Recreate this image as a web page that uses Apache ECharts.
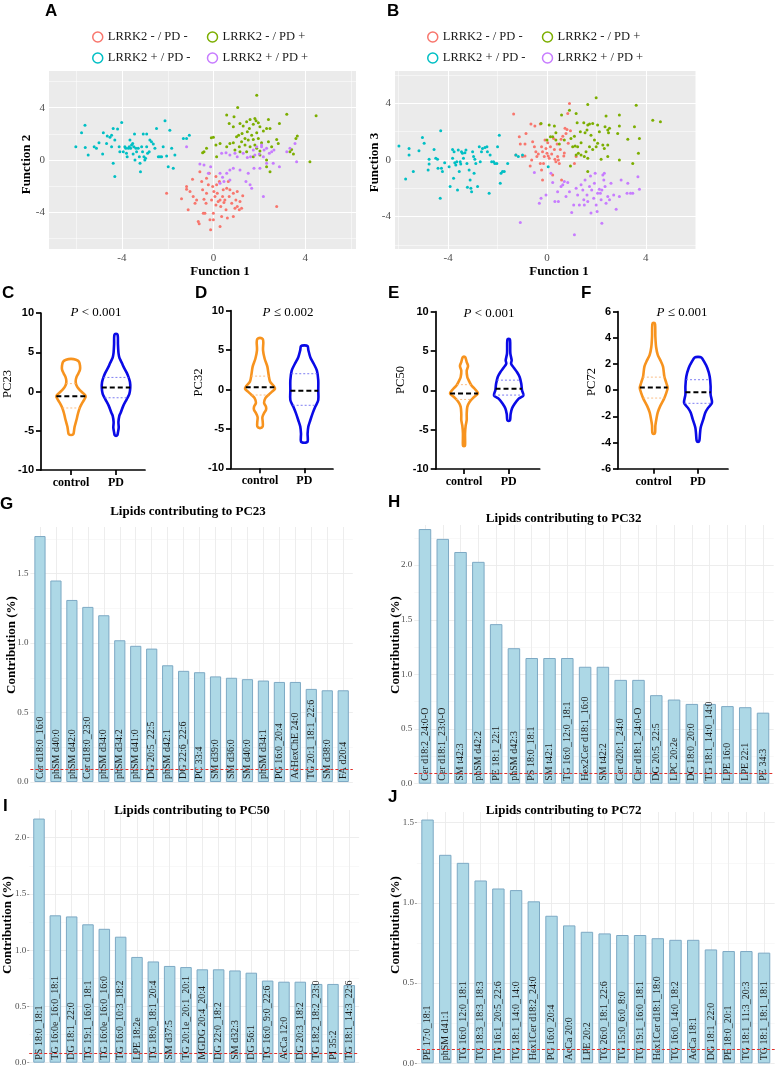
<!DOCTYPE html>
<html><head><meta charset="utf-8">
<script src="https://cdn.jsdelivr.net/npm/echarts@6/dist/echarts.min.js"></script>
<style>html,body{margin:0;padding:0;background:#fff}#c{width:777px;height:1070px}</style>
</head><body><div id="c"></div>
<script>
// ================= DATA =================
const groupNames = ['LRRK2 - / PD -','LRRK2 - / PD +','LRRK2 + / PD -','LRRK2 + / PD +'];
const scatterMajorTicks = [-4,0,4];
const scatterMinorTicks = [-6,-2,2,6];

// Panel A : Function 1 vs Function 2
const A_lrrkNeg_pdNeg = [[-2.05,-2.54],[-1.40,-2.97],[-1.18,-2.03],[-1.18,-2.23],[-1.11,-3.81],[-0.92,-1.47],[-0.89,-2.79],[-0.81,-3.30],[-0.67,-4.70],[-0.63,-4.87],[-0.60,-0.89],[-0.52,-1.65],[-0.48,-2.28],[-0.42,-2.99],[-0.38,-4.06],[-0.33,-3.30],[-0.31,-2.54],[-0.23,-1.90],[-0.19,-1.02],[-0.16,-4.57],[-0.13,-5.33],[-0.09,-3.05],[-0.01,-4.06],[0.01,-2.41],[0.06,-2.79],[0.10,-3.43],[0.13,-1.90],[0.16,-2.54],[0.20,-3.17],[0.25,-1.65],[0.28,-3.05],[0.31,-3.55],[0.35,-4.31],[0.39,-2.79],[0.42,-2.28],[0.45,-3.25],[0.49,-3.05],[0.54,-3.81],[0.57,-2.16],[0.60,-4.44],[0.64,-1.65],[0.68,-2.79],[0.71,-2.28],[0.79,-3.30],[0.86,-2.54],[0.93,-3.68],[0.97,-3.05],[1.03,-3.55],[1.12,-3.81],[1.15,-3.17],[1.22,-3.68],[1.03,-2.41],[0.86,-4.31],[0.28,-5.08],[-0.01,-4.57],[-0.45,-4.06],[-0.74,-3.05],[-1.03,-2.41],[2.75,-3.55],[1.27,-2.74],[-0.31,-1.40],[0.10,-1.27],[-0.04,-2.03]];
const A_lrrkNeg_pdPos = [[1.88,4.95],[1.05,4.01],[0.57,3.43],[0.89,3.30],[3.19,3.50],[4.47,3.38],[1.59,3.10],[1.80,3.17],[1.85,3.00],[1.44,2.92],[1.15,2.79],[0.68,2.79],[0.86,2.54],[1.29,2.59],[1.73,2.74],[1.95,2.84],[2.39,3.10],[2.46,2.41],[2.87,2.79],[2.31,2.41],[2.02,2.54],[1.56,2.41],[1.24,2.03],[1.47,2.16],[1.09,1.90],[1.00,1.78],[1.66,1.90],[1.88,2.08],[2.17,2.21],[1.37,1.65],[1.51,1.52],[1.73,1.57],[1.95,1.65],[1.22,1.40],[0.86,1.32],[0.71,1.27],[0.28,1.27],[0.10,1.14],[0.57,1.02],[1.12,1.02],[1.37,1.14],[1.59,1.02],[1.80,1.14],[2.09,1.32],[2.39,1.40],[2.53,1.02],[2.82,1.27],[2.75,1.57],[3.65,1.83],[3.59,1.65],[3.40,0.81],[3.33,0.63],[3.48,0.46],[4.20,-0.13],[-0.01,1.73],[-0.10,1.70],[-0.31,0.89],[-0.48,0.56],[-0.42,0.63],[0.13,0.25],[0.93,0.76],[1.15,0.63],[1.44,0.63],[1.73,0.25],[2.02,0.38],[2.31,0.00],[2.46,-0.89],[2.31,-0.51],[2.02,0.69],[1.88,0.89]];
const A_lrrkPos_pdNeg = [[-6.01,1.02],[-5.76,2.08],[-5.61,2.66],[-5.60,0.96],[-5.47,0.38],[-5.21,1.02],[-5.11,0.89],[-5.00,1.32],[-4.81,2.08],[-4.84,0.46],[-4.67,1.27],[-4.64,1.83],[-4.52,1.73],[-4.45,1.90],[-4.45,1.02],[-4.38,2.41],[-4.31,1.52],[-4.38,-0.25],[-4.31,-1.27],[-4.19,2.36],[-4.12,1.02],[-4.09,0.63],[-4.01,2.87],[-3.94,0.63],[-3.87,1.02],[-3.83,0.89],[-3.80,0.51],[-3.77,0.25],[-3.72,0.89],[-3.68,1.02],[-3.65,1.52],[-3.62,0.89],[-3.58,1.14],[-3.53,1.27],[-3.51,0.46],[-3.48,1.02],[-3.45,1.98],[-3.43,0.00],[-3.39,0.89],[-3.36,0.63],[-3.29,0.89],[-3.24,0.25],[-3.21,-0.25],[-3.19,-0.89],[-3.14,1.02],[-3.10,0.63],[-3.07,1.98],[-3.04,0.25],[-3.00,0.00],[-2.97,0.13],[-2.92,1.98],[-2.92,1.02],[-2.88,0.51],[-2.81,0.63],[-2.78,1.52],[-2.71,1.40],[-2.63,1.22],[-2.56,0.89],[-2.49,2.41],[-2.41,0.25],[-2.34,0.25],[-2.27,0.25],[-2.20,1.02],[-2.12,2.99],[-2.05,0.30],[-1.98,-0.51],[-1.91,2.28],[-1.83,0.89],[-1.76,-0.63],[-1.69,0.38],[-1.32,1.65],[-1.18,1.65],[-1.06,1.90]];
const A_lrrkPos_pdPos = [[-1.18,1.02],[-0.60,-0.30],[-0.42,-0.38],[-0.23,-1.02],[-0.13,-0.51],[0.28,-1.02],[0.39,-1.32],[0.57,-1.02],[0.71,-0.76],[0.86,-0.63],[0.28,-1.78],[0.45,-1.65],[0.71,-1.52],[0.35,0.51],[0.54,0.56],[0.71,0.38],[0.93,0.51],[1.03,0.25],[1.29,0.51],[1.47,0.20],[1.61,0.25],[1.73,0.76],[1.80,0.38],[1.99,0.46],[2.09,1.02],[2.20,0.76],[2.31,0.89],[2.43,0.51],[2.53,0.63],[2.63,0.76],[2.09,1.14],[1.88,1.02],[2.17,0.25],[2.31,-0.25],[2.60,-0.25],[2.87,-0.51],[2.02,-0.63],[1.76,-0.63],[1.41,-1.65],[1.59,-1.90],[1.66,-2.16],[2.17,-2.79],[3.19,0.63],[3.33,0.89],[3.55,1.27],[3.62,-0.13],[1.51,-1.02],[1.15,-0.76]];

// Panel B : Function 1 vs Function 3
const B_lrrkNeg_pdNeg = [[-1.35,3.25],[-1.12,1.65],[-1.08,1.13],[-0.89,1.13],[-0.85,1.88],[-1.26,0.35],[-0.99,0.24],[-0.89,0.28],[-0.68,-0.42],[-0.62,0.00],[-0.58,1.29],[-0.51,0.94],[-0.49,2.40],[-0.45,0.59],[-0.41,0.24],[-0.35,0.42],[-0.27,2.54],[-0.22,0.94],[-0.18,0.59],[-0.22,-0.71],[-0.18,-1.41],[-0.14,-0.24],[-0.08,1.41],[-0.04,0.82],[0.00,0.47],[0.03,1.22],[0.05,0.28],[0.09,0.12],[0.14,0.94],[0.19,0.42],[0.23,-1.06],[0.27,1.53],[0.30,0.75],[0.32,0.05],[0.36,-0.12],[0.41,1.13],[0.43,0.24],[0.46,0.00],[0.50,-0.24],[0.54,0.75],[0.57,1.46],[0.59,-1.41],[0.64,1.69],[0.68,0.28],[0.73,2.24],[0.77,1.88],[0.81,2.16],[0.84,3.29],[0.86,1.18],[0.91,4.00],[0.95,2.07],[0.70,0.50],[1.11,-0.24],[1.18,0.24],[-0.65,2.54],[-0.27,-0.24],[-0.11,0.24]];
const B_lrrkNeg_pdPos = [[1.99,4.40],[1.65,3.93],[0.91,3.53],[0.59,3.18],[1.18,3.29],[2.39,3.11],[2.93,3.18],[3.61,3.88],[4.28,2.82],[4.59,2.71],[1.49,2.64],[1.65,2.47],[1.72,2.54],[1.85,2.59],[2.05,2.47],[2.35,2.35],[2.46,2.12],[2.53,2.24],[2.93,2.40],[3.54,2.35],[1.22,2.64],[1.35,2.00],[1.54,1.93],[1.62,2.12],[1.78,1.76],[1.92,1.41],[2.12,2.00],[2.49,1.93],[2.86,1.88],[3.27,1.46],[3.74,1.53],[0.30,2.40],[0.09,2.47],[-0.24,2.59],[0.36,1.93],[0.70,1.41],[0.97,1.53],[1.11,1.69],[1.04,0.94],[1.14,0.99],[1.24,0.94],[1.38,1.22],[1.58,0.59],[1.72,0.94],[1.85,0.75],[1.99,0.94],[2.05,1.18],[2.26,1.06],[2.46,1.06],[2.32,0.82],[1.18,0.35],[1.27,0.47],[1.38,0.35],[1.51,0.24],[1.65,0.12],[2.19,0.05],[2.46,0.24],[2.93,0.00],[3.47,-0.24],[3.70,0.47],[0.36,1.41],[0.50,1.13],[0.23,1.65],[1.65,-0.82],[0.95,-0.42],[0.00,1.41],[0.14,1.65]];
const B_lrrkPos_pdNeg = [[-5.99,0.99],[-5.58,0.82],[-5.58,0.35],[-5.72,-1.34],[-5.41,-0.82],[-5.18,0.66],[-5.04,1.60],[-4.97,1.18],[-4.77,0.05],[-4.77,-0.28],[-4.81,-0.71],[-4.57,0.75],[-4.50,0.12],[-4.43,0.05],[-4.41,-0.59],[-4.32,-2.71],[-4.30,2.07],[-4.27,-0.59],[-4.23,-0.82],[-4.14,-0.19],[-3.96,-0.47],[-3.92,-1.88],[-3.82,0.75],[-3.82,0.12],[-3.78,-1.29],[-3.76,0.59],[-3.73,-0.19],[-3.69,-0.35],[-3.65,-0.12],[-3.62,-2.12],[-3.59,0.71],[-3.55,-0.82],[-3.51,-0.12],[-3.49,-0.28],[-3.46,0.59],[-3.42,0.47],[-3.38,0.12],[-3.32,0.52],[-3.28,0.71],[-3.24,-0.24],[-3.22,-1.93],[-3.15,-0.71],[-3.11,-1.41],[-3.08,-2.00],[-3.05,-2.24],[-3.01,0.59],[-2.97,0.24],[-2.95,-0.94],[-2.92,0.05],[-2.88,-0.24],[-2.81,-1.88],[-2.74,0.94],[-2.70,-0.12],[-2.65,0.59],[-2.61,0.82],[-2.51,0.89],[-2.43,0.94],[-2.41,0.59],[-2.34,-2.35],[-2.30,0.35],[-2.24,-0.12],[-2.16,-0.12],[-2.11,-0.24],[-2.03,-0.24],[-2.00,0.94],[-1.93,1.76],[-1.89,-1.65],[-1.86,-0.94],[-1.80,-0.82],[-1.73,-0.82],[-1.59,-0.24],[-1.26,0.35],[-1.16,0.24],[-0.99,0.35],[0.05,-0.47]];
const B_lrrkPos_pdPos = [[-1.08,-4.42],[-0.51,-0.89],[-0.31,-3.06],[-0.24,-2.71],[-0.04,-2.47],[0.16,-0.94],[0.23,-1.60],[0.32,-2.94],[0.43,-2.24],[0.46,-2.94],[0.57,-1.88],[0.64,-1.76],[0.70,-1.53],[0.77,-2.59],[0.84,-1.60],[0.91,-2.24],[1.00,-3.72],[1.08,-3.18],[1.11,-5.29],[1.18,-2.00],[1.24,-2.47],[1.31,-3.18],[1.38,-1.76],[1.45,-2.12],[1.49,-2.82],[1.51,-3.18],[1.54,-1.41],[1.62,-2.47],[1.65,-2.94],[1.72,-1.88],[1.76,-1.13],[1.78,-3.76],[1.81,-2.12],[1.89,-2.71],[1.92,-1.65],[1.95,-0.94],[1.99,-3.18],[2.03,-3.65],[2.05,-2.35],[2.12,-2.07],[2.16,-2.35],[2.19,-2.82],[2.22,-2.12],[2.26,-1.06],[2.30,-1.41],[2.32,-0.94],[2.35,-1.88],[2.39,-3.06],[2.46,-2.59],[2.53,-2.82],[2.59,-1.65],[2.70,-2.47],[2.80,-3.48],[2.93,-2.59],[3.24,-2.35],[3.27,-1.65],[3.38,-2.35],[3.47,-2.35],[3.68,-1.18],[3.74,-2.07],[2.22,-4.47],[3.00,-1.41]];

// Violin panels: [value, relative density]
const violinGroups = ['control','PD'];
const pc23_control = [[4.15,0],[4.05,0.33],[3.8,0.53],[3.3,0.6],[2.8,0.6],[2.3,0.49],[1.8,0.36],[1.3,0.31],[0.8,0.36],[0.3,0.53],[-0.2,0.8],[-0.6,0.98],[-1.0,0.89],[-1.5,0.73],[-2.0,0.6],[-2.5,0.51],[-3.0,0.44],[-3.5,0.38],[-4.0,0.31],[-4.5,0.24],[-5.0,0.2],[-5.4,0.16],[-5.55,0]];
const pc23_PD = [[7.35,0],[7.2,0.11],[6.0,0.13],[5.0,0.16],[4.5,0.2],[4.1,0.27],[3.6,0.4],[3.2,0.49],[2.4,0.71],[1.8,0.84],[1.2,0.93],[0.5,0.95],[-0.3,0.89],[-1.0,0.71],[-1.8,0.49],[-2.7,0.31],[-3.1,0.22],[-3.9,0.16],[-4.6,0.18],[-5.2,0.13],[-5.55,0.09],[-5.65,0]];
const pc23_medians = [-0.6, 0.5];
const pc23_quartiles = [[1.0,-2.1],[1.8,-0.8]];

const pc32_control = [[6.55,0],[6.4,0.18],[6.0,0.22],[5.0,0.2],[3.9,0.31],[2.9,0.49],[1.8,0.58],[1.0,0.67],[0.4,0.93],[0.1,1.0],[-0.3,0.78],[-0.7,0.56],[-1.1,0.36],[-1.7,0.27],[-2.2,0.4],[-2.6,0.4],[-3.0,0.27],[-3.5,0.16],[-4.1,0.18],[-4.7,0.18],[-4.9,0]];
const pc32_PD = [[5.6,0],[5.5,0.22],[5.0,0.27],[4.1,0.4],[3.3,0.62],[2.4,0.84],[1.2,0.93],[-0.1,0.93],[-1.35,0.93],[-2.2,0.73],[-3.0,0.56],[-3.9,0.4],[-4.7,0.27],[-5.6,0.22],[-6.6,0.22],[-6.75,0]];
const pc32_medians = [0.3, -0.15];
const pc32_quartiles = [[1.7,-0.7],[2.0,-2.0]];

const pc50_control = [[4.3,0],[4.2,0.09],[3.6,0.18],[3.1,0.27],[2.5,0.18],[1.7,0.22],[1.3,0.31],[0.65,0.49],[0.2,0.71],[-0.4,0.93],[-0.85,0.67],[-1.5,0.36],[-2.1,0.22],[-3.0,0.18],[-3.8,0.18],[-4.5,0.11],[-5.5,0.07],[-7.0,0.07],[-7.1,0]];
const pc50_PD = [[6.55,0],[6.4,0.09],[4.7,0.11],[3.8,0.2],[3.4,0.16],[2.9,0.33],[2.3,0.56],[1.7,0.73],[0.85,0.84],[0,0.89],[-0.65,0.98],[-1.05,0.67],[-1.7,0.4],[-2.3,0.22],[-3.0,0.13],[-3.8,0.09],[-3.9,0]];
const pc50_medians = [-0.4, 0.2];
const pc50_quartiles = [[0.72,-1.15],[1.3,-0.6]];

const pc72_control = [[5.15,0],[5.05,0.09],[4.1,0.11],[3.3,0.16],[2.7,0.27],[2.3,0.44],[1.8,0.62],[1.05,0.71],[0.55,0.84],[0.18,0.93],[-0.2,0.84],[-0.7,0.67],[-1.2,0.44],[-1.7,0.27],[-2.2,0.18],[-2.7,0.11],[-3.25,0.09],[-3.35,0]];
const pc72_PD = [[2.55,0],[2.5,0.22],[2.2,0.4],[1.7,0.62],[1.05,0.78],[0.3,0.84],[-0.33,0.84],[-0.96,0.93],[-1.35,0.67],[-1.7,0.49],[-2.2,0.36],[-2.85,0.18],[-3.35,0.13],[-3.85,0.09],[-3.95,0]];
const pc72_medians = [0.2, -0.15];
const pc72_quartiles = [[1.0,-0.6],[0.8,-1.0]];

const pValueTexts = ['< 0.001','≤ 0.002','< 0.001','≤ 0.001'];

// Bar panels
const lipidsPC23 = ['Cer d18:0_16:0','phSM d40:0','phSM d42:0','Cer d18:0_23:0','phSM d34:0','phSM d34:2','phSM d41:0','DG 20:5_22:5','phSM d42:1','DG 22:6_22:6','PC 33:4','SM d39:0','SM d36:0','SM d40:0','phSM d34:1','PG 16:0_20:4','AcHexChE 24:0','TG 20:1_18:1_22:6','SM d38:0','FA d20:4'];
const contribPC23 = [1.77,1.45,1.31,1.26,1.20,1.02,0.98,0.96,0.84,0.80,0.79,0.76,0.75,0.74,0.73,0.72,0.72,0.67,0.66,0.66];
const lipidsPC32 = ['Cer d18:2_24:0-O','Cer d18:1_23:0-O','SM t42:3','phSM d42:2','PE 18:1_22:1','phSM d42:3','PS 18:0_18:1','SM t42:1','TG 16:0_12:0_18:1','Hex2Cer d18:1_16:0','SM t42:2','Cer d20:1_24:0','Cer d18:1_24:0-O','DG 20:5_22:5','LPC 20:2e','DG 18:0_20:0','TG 18:1_14:0_14:0','LPE 16:0','LPE 22:1','PE 34:3'];
const contribPC32 = [2.33,2.24,2.12,2.03,1.46,1.24,1.15,1.15,1.15,1.07,1.07,0.95,0.95,0.81,0.77,0.73,0.73,0.71,0.70,0.65];
const lipidsPC50 = ['PS 18:0_18:1','TG 16:0e_16:0_18:1','DG 18:1_22:0','TG 19:1_16:0_18:1','TG 16:0e_16:0_16:0','TG 16:0_10:3_18:2','LPE 18:2e','TG 18:0_18:1_20:4','SM d37:5','TG 20:1e_20:1_20:1','MGDG 20:4_20:4','DG 22:0_18:2','SM d32:3','DG 56:1','TG 16:0_9:0_22:6','AcCa 12:0','DG 20:3_18:2','TG 18:2_18:2_23:0','PI 35:2','TG 18:1_14:3_22:6'];
const contribPC50 = [2.17,1.31,1.30,1.23,1.19,1.12,0.94,0.90,0.86,0.85,0.83,0.83,0.82,0.80,0.73,0.72,0.72,0.70,0.70,0.69];
const lipidsPC72 = ['PE 17:0_18:1','phSM d41:1','TG 16:0_12:0_18:1','TG 18:3_18:3_18:3','TG 16:1_20:5_22:6','TG 18:1_14:0_14:0','Hex1Cer d18:2_24:0','PG 16:0_20:4','AcCa 20:0','LPE 20:2','TG 26:0_18:1_22:6','TG 15:0_6:0_8:0','TG 19:1_16:0_18:1','Hex1Cer d18:1_18:0','TG 16:0_14:0_18:2','AcCa 18:1','DG 18:1_22:0','PE 18:0_20:1','TG 18:1_11:3_20:3','TG 18:1_18:1_18:1'];
const contribPC72 = [1.52,1.30,1.25,1.14,1.09,1.08,1.01,0.92,0.86,0.82,0.81,0.80,0.80,0.78,0.77,0.77,0.71,0.70,0.70,0.69];
const thresholds = [0.09, 0.10, 0.083, 0.091];
const yTicksPC23 = [0,0.5,1.0,1.5], yMinorPC23 = [0.25,0.75,1.25,1.75];
const yTicksPC32 = [0,0.5,1.0,1.5,2.0], yMinorPC32 = [0.25,0.75,1.25,1.75,2.25];
const yTicksPC50 = [0,0.5,1.0,1.5,2.0], yMinorPC50 = [0.25,0.75,1.25,1.75,2.25];
const yTicksPC72 = [0,0.5,1.0,1.5], yMinorPC72 = [0.25,0.75,1.25];

// ================= STYLE / BUILD =================
const SERIF = '"Liberation Serif","Times New Roman",serif';
const SANS = '"Liberation Sans",Arial,sans-serif';
const groupColors = ['#F8766D','#7CAE00','#00BFC4','#C77CFF'];
const ORANGE = '#F7931E', BLUE = '#0A0AE6';
const HW = 15;

const grid = [], xAxis = [], yAxis = [], series = [], graphic = [];

function scatterPanel(rect, xr, yr, groups){
  const gi = grid.length;
  grid.push({left:rect[0], top:rect[1], width:rect[2], height:rect[3], show:true, backgroundColor:'#EBEBEB', borderWidth:0});
  const xi = xAxis.length, yi = yAxis.length;
  const lab = {fontFamily:SERIF, fontSize:11, color:'#4D4D4D'};
  xAxis.push({gridIndex:gi, type:'value', min:xr[0], max:xr[1], position:'bottom',
    axisLine:{show:false}, axisTick:{show:false, customValues:scatterMajorTicks},
    axisLabel:Object.assign({customValues:scatterMajorTicks, margin:4}, lab),
    splitLine:{show:true, lineStyle:{color:'#FFFFFF', width:1.1}}});
  xAxis.push({gridIndex:gi, type:'value', min:xr[0], max:xr[1], position:'bottom',
    axisLine:{show:false}, axisTick:{show:false, customValues:scatterMinorTicks}, axisLabel:{show:false},
    splitLine:{show:true, lineStyle:{color:'#FFFFFF', width:0.5}}});
  yAxis.push({gridIndex:gi, type:'value', min:yr[0], max:yr[1], position:'left',
    axisLine:{show:false}, axisTick:{show:false, customValues:scatterMajorTicks},
    axisLabel:Object.assign({customValues:scatterMajorTicks, margin:4}, lab),
    splitLine:{show:true, lineStyle:{color:'#FFFFFF', width:1.1}}});
  yAxis.push({gridIndex:gi, type:'value', min:yr[0], max:yr[1], position:'left',
    axisLine:{show:false}, axisTick:{show:false, customValues:scatterMinorTicks}, axisLabel:{show:false},
    splitLine:{show:true, lineStyle:{color:'#FFFFFF', width:0.5}}});
  groups.forEach((pts,k) => series.push({type:'scatter', name:groupNames[k], xAxisIndex:xi, yAxisIndex:yi,
    data:pts, symbolSize:3, itemStyle:{color:groupColors[k], opacity:1}, silent:true}));
}

function interp(profile, v){
  for (let i=0;i<profile.length-1;i++){
    const a=profile[i], b=profile[i+1];
    if (v<=a[0] && v>=b[0]) { const t=(a[0]-v)/((a[0]-b[0])||1); return a[1]+(b[1]-a[1])*t; }
  }
  return 0;
}

function violinPanel(rect, xr, yr, yInt, profiles, medians, quartiles){
  const gi = grid.length;
  grid.push({left:rect[0], top:rect[1], width:rect[2], height:rect[3], show:false});
  const xi = xAxis.length, yi = yAxis.length;
  const axLine = {show:true, onZero:false, lineStyle:{color:'#000', width:1.7}};
  xAxis.push({gridIndex:gi, type:'value', min:xr[0], max:xr[1], position:'bottom', axisLine:axLine,
    axisTick:{show:true, customValues:[1,2], length:5, lineStyle:{color:'#000', width:1.7}},
    axisLabel:{customValues:[1,2], formatter:v => violinGroups[Math.round(v)-1], fontFamily:SERIF, fontWeight:'bold', fontSize:12, color:'#000', margin:7},
    splitLine:{show:false}});
  yAxis.push({gridIndex:gi, type:'value', min:yr[0], max:yr[1], interval:yInt, position:'left', axisLine:axLine,
    axisTick:{show:true, length:5, lineStyle:{color:'#000', width:1.7}},
    axisLabel:{fontFamily:SANS, fontWeight:'bold', fontSize:11, color:'#000', margin:7},
    splitLine:{show:false}});
  const colors = [ORANGE, BLUE], qColors = ['#F9B77A','#7070F0'];
  series.push({type:'custom', xAxisIndex:xi, yAxisIndex:yi, silent:true, data:[[1,0],[2,0]],
    renderItem:(params, api) => {
      const k = params.dataIndex, prof = profiles[k], cx = api.value(0);
      const right = prof.map(([v,d]) => { const p = api.coord([cx,v]); return [p[0]+d*HW, p[1]]; });
      const left = prof.slice(1,-1).reverse().map(([v,d]) => { const p = api.coord([cx,v]); return [p[0]-d*HW, p[1]]; });
      const ch = [{type:'polygon', shape:{points:right.concat(left), smooth:0.3}, style:{fill:'none', stroke:colors[k], lineWidth:2.6, lineJoin:'round'}}];
      quartiles[k].forEach(q => {
        const d = interp(prof,q), p = api.coord([cx,q]);
        ch.push({type:'line', shape:{x1:p[0]-d*HW, y1:p[1], x2:p[0]+d*HW, y2:p[1]}, style:{stroke:qColors[k], lineWidth:0.9, lineDash:[2,2]}});
      });
      const dm = interp(prof, medians[k]), pm = api.coord([cx, medians[k]]);
      ch.push({type:'line', shape:{x1:pm[0]-dm*HW, y1:pm[1], x2:pm[0]+dm*HW, y2:pm[1]}, style:{stroke:'#000', lineWidth:2, lineDash:[5,3]}});
      return {type:'group', children:ch};
    }});
}

function barPanel(rect, yMax, yTicks, yMinor, names, values, thr, barW, ticks){
  const gi = grid.length;
  grid.push({left:rect[0], top:rect[1], width:rect[2], height:rect[3], show:false});
  const xi = xAxis.length, yi = yAxis.length;
  const pos = names.map((n,i) => i+1);
  xAxis.push({gridIndex:gi, type:'value', min:0.4, max:names.length+0.6, position:'bottom',
    axisLine:{show:false}, axisTick:{show:false, customValues:pos}, axisLabel:{show:false},
    splitLine:{show:true, lineStyle:{color:'#EBEBEB', width:0.9}}});
  yAxis.push({gridIndex:gi, type:'value', min:0, max:yMax, position:'left',
    axisLine:{show:false}, axisTick:{show:ticks, customValues:yTicks, length:2, lineStyle:{color:'#888', width:0.8}},
    axisLabel:{customValues:yTicks, formatter:v => v.toFixed(1), fontFamily:SERIF, fontSize:9, color:'#4D4D4D', margin:ticks?3:2},
    splitLine:{show:true, lineStyle:{color:'#EBEBEB', width:0.9}}});
  yAxis.push({gridIndex:gi, type:'value', min:0, max:yMax, position:'left',
    axisLine:{show:false}, axisTick:{show:false, customValues:yMinor}, axisLabel:{show:false},
    splitLine:{show:true, lineStyle:{color:'#F3F3F3', width:0.6}}});
  series.push({type:'bar', xAxisIndex:xi, yAxisIndex:yi, barWidth:barW, silent:true,
    data:values.map((v,i) => [pos[i], v]),
    itemStyle:{color:'#ADD8E6', borderColor:'#7DA9C4', borderWidth:1},
    label:{show:true, position:'insideBottom', rotate:90, align:'left', verticalAlign:'middle', distance:3,
      formatter:p => names[p.dataIndex], fontFamily:SERIF, fontSize:10, color:'#1A1A1A'},
    markLine:{silent:true, symbol:'none', label:{show:false}, lineStyle:{color:'#E0302A', type:[3,2], width:1}, data:[{yAxis:thr}]}});
}

function txt(x, y, text, size, weight, opts){
  opts = opts || {};
  return {type:'text', x:x, y:y, rotation:opts.rot||0, z:100,
    style:{text:text, fontFamily:opts.family||SERIF, fontSize:size, fontWeight:weight||'normal',
      fill:opts.color||'#000', textAlign:opts.align||'center', align:opts.align||'center',
      textVerticalAlign:'middle', verticalAlign:'middle', rich:opts.rich}};
}

// ---- panels ----
scatterPanel([49,71,307,178], [-7.18,6.21], [-6.8,6.8], [A_lrrkNeg_pdNeg, A_lrrkNeg_pdPos, A_lrrkPos_pdNeg, A_lrrkPos_pdPos]);
scatterPanel([395,71,301,178], [-6.15,6.03], [-6.3,6.3], [B_lrrkNeg_pdNeg, B_lrrkNeg_pdPos, B_lrrkPos_pdNeg, B_lrrkPos_pdPos]);

violinPanel([41,313,104,157], [0.333,2.644], [-10,10], 5, [pc23_control, pc23_PD], pc23_medians, pc23_quartiles);
violinPanel([231,310.7,102,157.6], [0.345,2.648], [-10,10], 5, [pc32_control, pc32_PD], pc32_medians, pc32_quartiles);
violinPanel([435.7,311.7,104,157.3], [0.367,2.694], [-10,10], 5, [pc50_control, pc50_PD], pc50_medians, pc50_quartiles);
violinPanel([618,311.7,110,157], [0.194,2.677], [-6,6], 2, [pc72_control, pc72_PD], pc72_medians, pc72_quartiles);

barPanel([30.4,527,322.4,255], 1.835, yTicksPC23, yMinorPC23, lipidsPC23, contribPC23, thresholds[0], 11.2, false);
barPanel([414.3,525,359.4,258.7], 2.367, yTicksPC32, yMinorPC32, lipidsPC32, contribPC32, thresholds[1], 12.5, false);
barPanel([29.2,810,329.9,252.7], 2.246, yTicksPC50, yMinorPC50, lipidsPC50, contribPC50, thresholds[2], 11.5, true);
barPanel([416.9,812,357.8,251.3], 1.567, yTicksPC72, yMinorPC72, lipidsPC72, contribPC72, thresholds[3], 12.4, true);

// ---- texts ----
const L = (x,y,t) => txt(x,y,t,17,'bold',{family:SANS, align:'left'});
graphic.push(L(45,11,'A'), L(387,11,'B'), L(2,293,'C'), L(195,293,'D'), L(388,293,'E'), L(581,293,'F'),
  L(0,504.5,'G'), L(388,502,'H'), L(3,806.5,'I'), L(388,797.5,'J'));
graphic.push(txt(220,272,'Function 1',13,'bold'), txt(27,164.5,'Function 2',13,'bold',{rot:Math.PI/2}),
  txt(559,271.7,'Function 1',13,'bold'), txt(375,162.5,'Function 3',13,'bold',{rot:Math.PI/2}));
const pRich = {i:{fontFamily:SERIF, fontSize:13, fontStyle:'italic', fill:'#000'}, n:{fontFamily:SERIF, fontSize:13, fill:'#000'}};
[[96,313],[288,313],[489,313.5],[682,313]].forEach((p,k) => graphic.push(txt(p[0],p[1],'{i|P}{n| '+pValueTexts[k]+'}',13,'normal',{rich:pRich})));
graphic.push(txt(8,384,'PC23',12.5,'normal',{rot:Math.PI/2}), txt(199,382.5,'PC32',12.5,'normal',{rot:Math.PI/2}),
  txt(401,380,'PC50',12.5,'normal',{rot:Math.PI/2}), txt(592,382,'PC72',12.5,'normal',{rot:Math.PI/2}));
graphic.push(txt(188,511.5,'Lipids contributing to PC23',13,'bold'), txt(563.7,518.5,'Lipids contributing to PC32',13,'bold'),
  txt(192,810.7,'Lipids contributing to PC50',13,'bold'), txt(563.7,810.7,'Lipids contributing to PC72',13,'bold'));
graphic.push(txt(12,645,'Contribution (%)',13,'bold',{rot:Math.PI/2}), txt(396,645,'Contribution (%)',13,'bold',{rot:Math.PI/2}),
  txt(8,925,'Contribution (%)',13,'bold',{rot:Math.PI/2}), txt(396,925,'Contribution (%)',13,'bold',{rot:Math.PI/2}));

const legendItems = groupNames.map((n,k) => ({name:n, icon:'circle', itemStyle:{color:'rgba(0,0,0,0)', borderColor:groupColors[k], borderWidth:1.5}}));
const legendBase = {top:30, orient:'horizontal', width:240, padding:0, itemWidth:10, itemHeight:10, itemGap:7, selectedMode:false,
  textStyle:{fontFamily:SERIF, fontSize:12.5, color:'#1A1A1A', width:92, lineHeight:14}, data:legendItems};

const chart = echarts.init(document.getElementById('c'), null, {renderer:'canvas', width:777, height:1070});
chart.setOption({
  animation:false, backgroundColor:'#FFFFFF',
  legend:[Object.assign({left:92}, legendBase), Object.assign({left:427}, legendBase)],
  grid:grid, xAxis:xAxis, yAxis:yAxis, series:series, graphic:graphic
});
</script>
</body></html>
